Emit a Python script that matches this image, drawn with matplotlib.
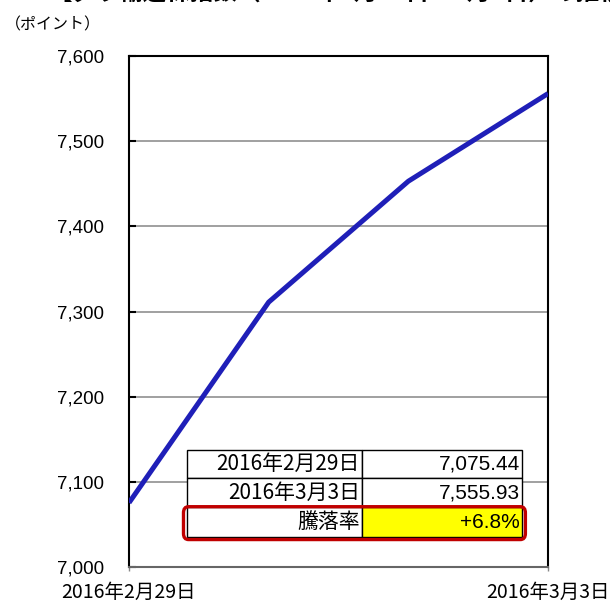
import matplotlib
matplotlib.use("Agg")
import matplotlib.pyplot as plt
from matplotlib.patches import Rectangle, FancyBboxPatch

plt.rcParams['font.family'] = ['Noto Sans CJK JP', 'DejaVu Sans']

# data
dates = ["2016年2月29日", "2016年3月1日", "2016年3月2日", "2016年3月3日"]
values = [7075.44, 7311, 7453, 7555.93]
table_labels = ["2016年2月29日", "2016年3月3日", "騰落率"]
table_values = ["7,075.44", "7,555.93", "+6.8%"]

fig = plt.figure(figsize=(6.10, 6.03), dpi=100)
ax = fig.add_axes([0.2115, 0.0597, 0.6869, 0.8474])

x = list(range(len(dates)))
ax.plot(x, values, color="#1f1fb8", lw=3.6, solid_capstyle="butt", zorder=3)

ax.set_xlim(0, len(dates) - 1)
ax.set_ylim(7000, 7600)
ax.set_yticks(range(7000, 7601, 100))
ax.set_yticklabels([f"{v:,}" for v in range(7000, 7601, 100)],
                   fontsize=13.5, family=['Liberation Sans'])
# only the first and last date are labelled
ax.set_xticks([x[0], x[-1]])
ax.set_xticklabels([dates[0], dates[-1]], fontsize=14)
ax.tick_params(axis="y", direction="in", length=5, width=1.5, pad=18)
ax.tick_params(axis="x", direction="out", length=3, width=1, color="#888888", pad=8)
ax.grid(axis="y", color="#999999", lw=1.3)
ax.set_axisbelow(True)
for s in ["top", "right", "left"]:
    ax.spines[s].set_color("black")
    ax.spines[s].set_linewidth(1.5)
ax.spines["bottom"].set_color("#666666")
ax.spines["bottom"].set_linewidth(1.5)

# summary table
x0, x1, x2 = 0.138, 0.556, 0.938
rows = [0.229, 0.174, 0.117, 0.0587]
for i in range(3):
    top, bot = rows[i], rows[i + 1]
    face = "#ffff00" if i == 2 else "white"
    ax.add_patch(Rectangle((x0, bot), x1 - x0, top - bot, transform=ax.transAxes,
                           facecolor="white", edgecolor="black", lw=1, zorder=4))
    ax.add_patch(Rectangle((x1, bot), x2 - x1, top - bot, transform=ax.transAxes,
                           facecolor=face, edgecolor="black", lw=1, zorder=4))
    ym = (top + bot) / 2
    ax.text(x1 - 0.005, ym, table_labels[i], transform=ax.transAxes, ha="right",
            va="center", fontsize=15, zorder=5)
    ax.text(x2 - 0.005, ym, table_values[i], transform=ax.transAxes, ha="right",
            va="center", fontsize=15, family=['Liberation Sans'], zorder=5)

ax.add_patch(FancyBboxPatch((x0 - 0.008, rows[3] - 0.005), x2 - x0 + 0.016,
                            rows[2] - rows[3] + 0.006,
                            boxstyle="round,pad=0,rounding_size=0.012",
                            transform=ax.transAxes, facecolor="none",
                            edgecolor="#c00000", lw=2.4, zorder=6))

fig.text(0.008, 0.958, "（ポイント）", fontsize=11.5, ha="left", va="center")
# title is clipped at the top edge, as in the source image
fig.text(0.57, 1.012, "【ダウ輸送株指数（2016年2月29日～3月3日）の推移】",
         fontsize=17, ha="center", va="center", weight="bold")

fig.savefig("out.png", dpi=100)
